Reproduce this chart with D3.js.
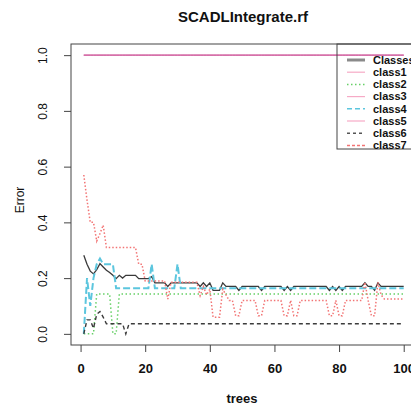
<!DOCTYPE html>
<html>
<head>
<meta charset="utf-8">
<script src="https://cdn.jsdelivr.net/npm/d3@7.9.0/dist/d3.min.js"></script>
<style>
  body { margin: 0; background: #fff; }
  svg { font-family: "Liberation Sans", Arial, sans-serif; }
</style>
</head>
<body>
<svg id="chart" width="411" height="408"></svg>
<script>
// number of trees on the x axis
const trees = d3.range(1, 101);

// error rate per tree
const oob = [
  0.282, 0.25, 0.225, 0.215, 0.23, 0.252, 0.24, 0.228, 0.22, 0.21,
  0.198, 0.21, 0.2, 0.21, 0.21, 0.21, 0.21, 0.198, 0.198, 0.198,
  0.198, 0.205, 0.183, 0.183, 0.183, 0.183, 0.17, 0.183, 0.183, 0.183,
  0.183, 0.183, 0.183, 0.183, 0.183, 0.183, 0.17, 0.183, 0.17, 0.183,
  0.156, 0.156, 0.156, 0.183, 0.17, 0.17, 0.17, 0.17, 0.156, 0.17,
  0.17, 0.17, 0.17, 0.17, 0.17, 0.156, 0.17, 0.17, 0.17, 0.17,
  0.17, 0.17, 0.156, 0.17, 0.156, 0.17, 0.17, 0.17, 0.17, 0.17,
  0.17, 0.17, 0.17, 0.17, 0.17, 0.17, 0.156, 0.17, 0.156, 0.17,
  0.156, 0.17, 0.17, 0.17, 0.17, 0.17, 0.17, 0.183, 0.17, 0.17,
  0.156, 0.183, 0.17, 0.17, 0.17, 0.17, 0.17, 0.17, 0.17, 0.17
];
const class1 = [
  1, 1, 1, 1, 1, 1, 1, 1, 1, 1, 1, 1, 1, 1, 1, 1, 1, 1, 1, 1,
  1, 1, 1, 1, 1, 1, 1, 1, 1, 1, 1, 1, 1, 1, 1, 1, 1, 1, 1, 1,
  1, 1, 1, 1, 1, 1, 1, 1, 1, 1, 1, 1, 1, 1, 1, 1, 1, 1, 1, 1,
  1, 1, 1, 1, 1, 1, 1, 1, 1, 1, 1, 1, 1, 1, 1, 1, 1, 1, 1, 1,
  1, 1, 1, 1, 1, 1, 1, 1, 1, 1, 1, 1, 1, 1, 1, 1, 1, 1, 1, 1
];
const class2 = [
  0, 0, 0, 0, 0.143, 0.143, 0.143, 0.143, 0.143, 0,
  0, 0.143, 0.143, 0.143, 0.143, 0.143, 0.143, 0.143, 0.143, 0.143,
  0.143, 0.143, 0.143, 0.143, 0.143, 0.143, 0.143, 0.143, 0.143, 0.143,
  0.143, 0.143, 0.143, 0.143, 0.143, 0.143, 0.143, 0.143, 0.143, 0.143,
  0.143, 0.143, 0.143, 0.143, 0.143, 0.143, 0.143, 0.143, 0.143, 0.143,
  0.143, 0.143, 0.143, 0.143, 0.143, 0.143, 0.143, 0.143, 0.143, 0.143,
  0.143, 0.143, 0.143, 0.143, 0.143, 0.143, 0.143, 0.143, 0.143, 0.143,
  0.143, 0.143, 0.143, 0.143, 0.143, 0.143, 0.143, 0.143, 0.143, 0.143,
  0.143, 0.143, 0.143, 0.143, 0.143, 0.143, 0.143, 0.143, 0.143, 0.143,
  0.143, 0.143, 0.143, 0.143, 0.143, 0.143, 0.143, 0.143, 0.143, 0.143
];
const class3 = [
  1, 1, 1, 1, 1, 1, 1, 1, 1, 1, 1, 1, 1, 1, 1, 1, 1, 1, 1, 1,
  1, 1, 1, 1, 1, 1, 1, 1, 1, 1, 1, 1, 1, 1, 1, 1, 1, 1, 1, 1,
  1, 1, 1, 1, 1, 1, 1, 1, 1, 1, 1, 1, 1, 1, 1, 1, 1, 1, 1, 1,
  1, 1, 1, 1, 1, 1, 1, 1, 1, 1, 1, 1, 1, 1, 1, 1, 1, 1, 1, 1,
  1, 1, 1, 1, 1, 1, 1, 1, 1, 1, 1, 1, 1, 1, 1, 1, 1, 1, 1, 1
];
const class4 = [
  0, 0.2, 0.1, 0.2, 0.25, 0.27, 0.25, 0.25, 0.25, 0.25,
  0.164, 0.164, 0.164, 0.164, 0.164, 0.164, 0.164, 0.164, 0.164, 0.164,
  0.164, 0.25, 0.164, 0.164, 0.164, 0.164, 0.164, 0.164, 0.164, 0.25,
  0.164, 0.164, 0.164, 0.164, 0.164, 0.164, 0.164, 0.164, 0.164, 0.164,
  0.164, 0.164, 0.164, 0.164, 0.164, 0.164, 0.164, 0.164, 0.164, 0.164,
  0.164, 0.164, 0.164, 0.164, 0.164, 0.164, 0.164, 0.164, 0.164, 0.164,
  0.164, 0.164, 0.164, 0.164, 0.164, 0.164, 0.164, 0.164, 0.164, 0.164,
  0.164, 0.164, 0.164, 0.164, 0.164, 0.164, 0.164, 0.164, 0.164, 0.164,
  0.164, 0.164, 0.164, 0.164, 0.164, 0.164, 0.164, 0.164, 0.164, 0.164,
  0.164, 0.164, 0.164, 0.164, 0.164, 0.164, 0.164, 0.164, 0.164, 0.164
];
const class5 = [
  1, 1, 1, 1, 1, 1, 1, 1, 1, 1, 1, 1, 1, 1, 1, 1, 1, 1, 1, 1,
  1, 1, 1, 1, 1, 1, 1, 1, 1, 1, 1, 1, 1, 1, 1, 1, 1, 1, 1, 1,
  1, 1, 1, 1, 1, 1, 1, 1, 1, 1, 1, 1, 1, 1, 1, 1, 1, 1, 1, 1,
  1, 1, 1, 1, 1, 1, 1, 1, 1, 1, 1, 1, 1, 1, 1, 1, 1, 1, 1, 1,
  1, 1, 1, 1, 1, 1, 1, 1, 1, 1, 1, 1, 1, 1, 1, 1, 1, 1, 1, 1
];
const class6 = [
  0, 0.05, 0.05, 0.02, 0.07, 0.08, 0.06, 0.036, 0.036, 0.036,
  0.036, 0.036, 0.036, 0, 0.036, 0.036, 0.036, 0.036, 0.036, 0.036,
  0.036, 0.036, 0.036, 0.036, 0.036, 0.036, 0.036, 0.036, 0.036, 0.036,
  0.036, 0.036, 0.036, 0.036, 0.036, 0.036, 0.036, 0.036, 0.036, 0.036,
  0.036, 0.036, 0.036, 0.036, 0.036, 0.036, 0.036, 0.036, 0.036, 0.036,
  0.036, 0.036, 0.036, 0.036, 0.036, 0.036, 0.036, 0.036, 0.036, 0.036,
  0.036, 0.036, 0.036, 0.036, 0.036, 0.036, 0.036, 0.036, 0.036, 0.036,
  0.036, 0.036, 0.036, 0.036, 0.036, 0.036, 0.036, 0.036, 0.036, 0.036,
  0.036, 0.036, 0.036, 0.036, 0.036, 0.036, 0.036, 0.036, 0.036, 0.036,
  0.036, 0.036, 0.036, 0.036, 0.036, 0.036, 0.036, 0.036, 0.036, 0.036
];
const class7 = [
  0.57, 0.48, 0.4, 0.4, 0.333, 0.36, 0.39, 0.31, 0.31, 0.31,
  0.31, 0.31, 0.31, 0.31, 0.31, 0.31, 0.31, 0.25, 0.25, 0.19,
  0.19, 0.19, 0.19, 0.19, 0.19, 0.19, 0.125, 0.185, 0.185, 0.185,
  0.185, 0.185, 0.185, 0.185, 0.185, 0.185, 0.137, 0.17, 0.14, 0.16,
  0.06, 0.06, 0.06, 0.16, 0.14, 0.12, 0.12, 0.065, 0.065, 0.12,
  0.12, 0.12, 0.12, 0.12, 0.065, 0.065, 0.12, 0.12, 0.12, 0.12,
  0.12, 0.12, 0.065, 0.065, 0.12, 0.065, 0.065, 0.12, 0.12, 0.12,
  0.12, 0.12, 0.12, 0.12, 0.12, 0.12, 0.065, 0.065, 0.12, 0.065,
  0.065, 0.12, 0.12, 0.12, 0.12, 0.12, 0.12, 0.185, 0.12, 0.065,
  0.065, 0.185, 0.14, 0.125, 0.125, 0.125, 0.125, 0.125, 0.125, 0.125
];

const seriesNames = ['Classes', 'class1', 'class2', 'class3', 'class4', 'class5', 'class6', 'class7'];
const seriesValues = [oob, class1, class2, class3, class4, class5, class6, class7];
const xTicks = [0, 20, 40, 60, 80, 100];
const yTicks = [0, 0.2, 0.4, 0.6, 0.8, 1.0];

// look of each series (line in plot / sample in legend)
const lineColor = ['#3a3a3a', '#d46aa6', '#66d066', '#d46aa6', '#5cc6de', '#d46aa6', '#3c3c3c', '#f27474'];
const keyColor = ['#8a8a8a', '#f6aac6', '#66d066', '#f6aac6', '#5cc6de', '#f6aac6', '#555', '#f27474'];
const lineDash = [null, null, '1.5,2.5', null, '7,3', null, '4,3', '1.5,2'];
const keyDash = [null, null, '1.5,2.5', null, '5,3', null, '3,3', '3,2'];
const lineWidth = [1.3, 1, 1.5, 1, 2, 1, 1.4, 1.5];
const keyWidth = [3, 1.2, 1.5, 1.2, 1.5, 1.2, 1.5, 1.5];

const box = { left: 71, top: 44, right: 416.5, bottom: 345 };

const svg = d3.select('#chart');

const x = d3.scaleLinear()
  .domain([1 - 0.04 * 99, 100 + 0.04 * 99])
  .range([box.left, box.right]);
const y = d3.scaleLinear()
  .domain([-0.04, 1.04])
  .range([box.bottom, box.top]);

svg.append('defs').append('clipPath').attr('id', 'plotclip')
  .append('rect')
  .attr('x', box.left).attr('y', box.top)
  .attr('width', box.right - box.left).attr('height', box.bottom - box.top);

// lines
const line = d3.line()
  .x((d, i) => x(trees[i]))
  .y((d) => y(d));

const lines = svg.append('g').attr('clip-path', 'url(#plotclip)');
seriesValues.forEach((vals, i) => {
  lines.append('path')
    .attr('d', line(vals))
    .attr('fill', 'none')
    .attr('stroke', lineColor[i])
    .attr('stroke-width', lineWidth[i])
    .attr('stroke-dasharray', lineDash[i]);
});

// plot box
svg.append('rect')
  .attr('x', box.left).attr('y', box.top)
  .attr('width', box.right - box.left).attr('height', box.bottom - box.top)
  .attr('fill', 'none').attr('stroke', '#444').attr('stroke-width', 1);

// y axis
const yAxis = svg.append('g')
  .attr('transform', `translate(${box.left},0)`)
  .call(d3.axisLeft(y).tickValues(yTicks).tickFormat(d3.format('.1f')).tickSize(7).tickSizeOuter(0));
yAxis.select('.domain').remove();
yAxis.selectAll('.tick line').attr('stroke', '#444');
yAxis.selectAll('.tick text')
  .attr('transform', 'rotate(-90)')
  .attr('x', 0).attr('y', -24.5).attr('dy', 0)
  .style('text-anchor', 'middle')
  .style('font-size', '12px')
  .style('font-family', '"Liberation Sans", Arial, sans-serif')
  .attr('fill', '#111');

// x axis
const xAxis = svg.append('g')
  .attr('transform', `translate(0,${box.bottom})`)
  .call(d3.axisBottom(x).tickValues(xTicks).tickSize(7).tickSizeOuter(0));
xAxis.select('.domain').remove();
xAxis.selectAll('.tick line').attr('stroke', '#444');
xAxis.selectAll('.tick text')
  .attr('y', 28).attr('dy', 0)
  .style('font-size', '13px')
  .style('font-weight', 'bold')
  .style('font-family', '"Liberation Sans", Arial, sans-serif')
  .attr('fill', '#111');

// titles
svg.append('text')
  .attr('x', 243).attr('y', 22)
  .attr('text-anchor', 'middle')
  .style('font-size', '15px').style('font-weight', 'bold')
  .attr('fill', '#111')
  .text('SCADLIntegrate.rf');

svg.append('text')
  .attr('x', 242).attr('y', 403)
  .attr('text-anchor', 'middle')
  .style('font-size', '13px').style('font-weight', 'bold')
  .attr('fill', '#111')
  .text('trees');

svg.append('text')
  .attr('transform', 'translate(24,200) rotate(-90)')
  .attr('text-anchor', 'middle')
  .style('font-size', '12px')
  .attr('fill', '#111')
  .text('Error');

// legend (no fill, so the 1.0 line shows through as in the original)
const legend = svg.append('g');
legend.append('rect')
  .attr('x', 337).attr('y', box.top)
  .attr('width', 100).attr('height', 105)
  .attr('fill', 'none').attr('stroke', '#444');

seriesNames.forEach((name, i) => {
  const ly = 60 + i * 12.2;
  legend.append('line')
    .attr('x1', 347).attr('x2', 365)
    .attr('y1', ly).attr('y2', ly)
    .attr('stroke', keyColor[i])
    .attr('stroke-width', keyWidth[i])
    .attr('stroke-dasharray', keyDash[i]);
  legend.append('text')
    .attr('x', 373).attr('y', ly)
    .attr('dy', '0.35em')
    .style('font-size', '11px').style('font-weight', 'bold')
    .attr('fill', '#111')
    .text(name);
});
</script>
</body>
</html>
